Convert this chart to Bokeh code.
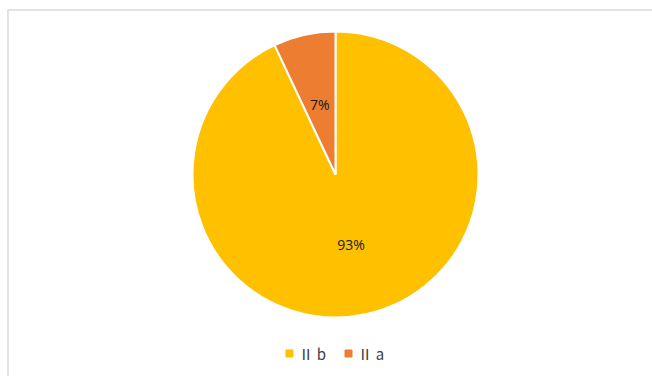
import math
from bokeh.plotting import figure
from bokeh.models import ColumnDataSource, Range1d
from bokeh.core.properties import value
from bokeh.embed import file_html
from bokeh.resources import INLINE

categories = ["Ⅱ b", "Ⅱ a"]
shares = [93, 7]
colors = ["#FFC000", "#ED7D31"]

W, H = 652, 376
cx, cy, r = 335, 174, 143

total = sum(shares)
starts, ends, lx, ly, labels = [], [], [], [], []
cum = 0
for s in shares:
    a0 = math.pi / 2 - 2 * math.pi * cum / total
    cum += s
    a1 = math.pi / 2 - 2 * math.pi * cum / total
    starts.append(a0)
    ends.append(a1)
    mid = (a0 + a1) / 2
    lx.append(cx + 0.5 * r * math.cos(mid))
    ly.append(H - cy + 0.5 * r * math.sin(mid))
    labels.append(f"{round(100 * s / total)}%")

p = figure(width=W, height=H, output_backend="svg", toolbar_location=None,
           x_range=Range1d(0, W), y_range=Range1d(0, H), min_border=0)
p.axis.visible = False
p.grid.visible = False
p.outline_line_color = None
p.background_fill_color = "white"
p.border_fill_color = "white"

# chart area border
p.quad(left=[7.5], right=[W + 10], top=[H - 9.5], bottom=[-10],
       fill_color=None, line_color="#d9d9d9", line_width=1.5)

src = ColumnDataSource(dict(start=starts, end=ends, color=colors, cat=categories))
p.wedge(x=cx, y=H - cy, radius=r, start_angle="start", end_angle="end",
        direction="clock", fill_color="color", line_color="white", line_width=2,
        source=src)

p.text(x=lx, y=ly, text=labels, text_align="center", text_baseline="middle",
       text_font=value("Open Sans"), text_font_size="14px", text_color="#1a1a1a")

# legend
leg_y = H - 353
leg_x = [289, 348]
p.scatter(x=leg_x, y=[leg_y] * 2, marker="square", size=7, color=colors)
p.text(x=[x + 9 for x in leg_x], y=[leg_y] * 2, text=categories,
       text_align="left", text_baseline="middle",
       text_font=value("Noto Sans CJK JP"), text_font_size="15px", text_color="#404040")

open("out.html", "w").write(file_html(p, INLINE))
